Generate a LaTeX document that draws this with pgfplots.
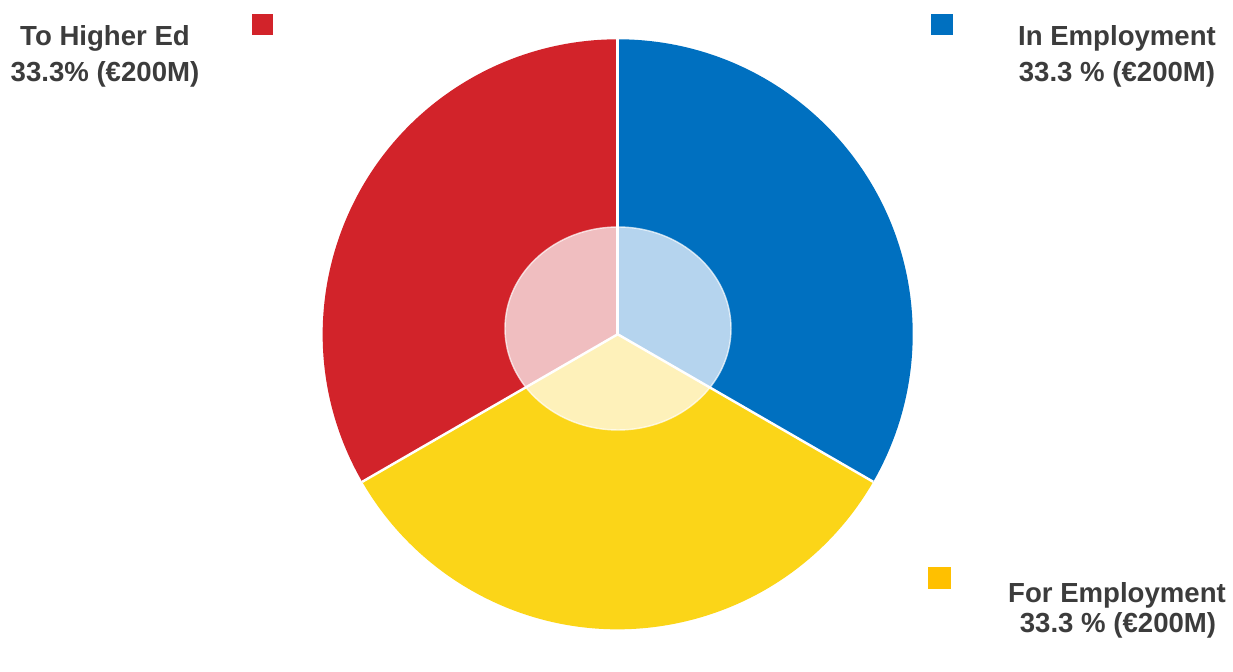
\documentclass[border=0pt]{standalone}
\usepackage{pgfplots}
\usepackage{pgfplotstable}
\pgfplotsset{compat=1.18}
\usepackage{fontspec}
\setmainfont{Liberation Sans}
\definecolor{cBlue}{HTML}{0070C0}
\definecolor{cYellow}{HTML}{FBD518}
\definecolor{cRed}{HTML}{D2232A}
\definecolor{lBlue}{HTML}{B5D4EE}
\definecolor{lYellow}{HTML}{FEF1BA}
\definecolor{lRed}{HTML}{F0BEC0}
\definecolor{legYellow}{HTML}{FFC000}
\definecolor{txt}{HTML}{3C3C3C}
\pgfplotstableread[col sep=comma]{
name,value
In Employment,200
For Employment,200
To Higher Ed,200
}\pietable
\begin{document}
\begin{tikzpicture}
\pgfplotstablegetelem{0}{value}\of\pietable \let\va\pgfplotsretval
\pgfplotstablegetelem{1}{value}\of\pietable \let\vb\pgfplotsretval
\pgfplotstablegetelem{2}{value}\of\pietable \let\vc\pgfplotsretval
\pgfmathsetmacro\tot{\va+\vb+\vc}
\pgfmathsetmacro\fa{\va/\tot}
\pgfmathsetmacro\fb{\vb/\tot}
\pgfmathsetmacro\fc{\vc/\tot}
\pgfmathsetmacro\Aa{90}
\pgfmathsetmacro\Ab{\Aa-360*\fa}
\pgfmathsetmacro\Ac{\Ab-360*\fb}
\pgfmathsetmacro\Ad{\Ac-360*\fc}
\def\R{2.95cm}
\begin{axis}[
  width=12.33cm, height=6.41cm, scale only axis,
  xmin=0, xmax=1233, ymin=0, ymax=641,
  hide axis, clip=false,
]
\path (rel axis cs:0,0) rectangle (rel axis cs:1,1);
% slices
\fill[cBlue] (axis cs:617.7,306.7) -- ++(\Aa:\R) arc[start angle=\Aa, end angle=\Ab, radius=\R] -- cycle;
\fill[cYellow] (axis cs:617.7,306.7) -- ++(\Ab:\R) arc[start angle=\Ab, end angle=\Ac, radius=\R] -- cycle;
\fill[cRed] (axis cs:617.7,306.7) -- ++(\Ac:\R) arc[start angle=\Ac, end angle=\Ad, radius=\R] -- cycle;
% inner light parts
\begin{scope}
\clip (axis cs:617.7,306.7) -- ++(\Aa:\R) arc[start angle=\Aa, end angle=\Ab, radius=\R] -- cycle;
\fill[lBlue] (axis cs:618,312.5) ellipse[x radius=1.13cm, y radius=1.015cm];
\end{scope}
\begin{scope}
\clip (axis cs:617.7,306.7) -- ++(\Ab:\R) arc[start angle=\Ab, end angle=\Ac, radius=\R] -- cycle;
\fill[lYellow] (axis cs:618,312.5) ellipse[x radius=1.13cm, y radius=1.015cm];
\end{scope}
\begin{scope}
\clip (axis cs:617.7,306.7) -- ++(\Ac:\R) arc[start angle=\Ac, end angle=\Ad, radius=\R] -- cycle;
\fill[lRed] (axis cs:618,312.5) ellipse[x radius=1.13cm, y radius=1.015cm];
\end{scope}
\draw[white, opacity=0.7, line width=0.4pt] (axis cs:618,312.5) ellipse[x radius=1.13cm, y radius=1.015cm];
% separators
\draw[white, line width=0.7pt] (axis cs:617.7,306.7) -- ++(\Aa:\R);
\draw[white, line width=0.7pt] (axis cs:617.7,306.7) -- ++(\Ab:\R);
\draw[white, line width=0.7pt] (axis cs:617.7,306.7) -- ++(\Ac:\R);
% legend squares
\fill[cRed] (axis cs:251.5,627) rectangle (axis cs:273,606);
\fill[cBlue] (axis cs:930.5,627) rectangle (axis cs:953,606);
\fill[legYellow] (axis cs:928,74) rectangle (axis cs:950.5,52);
% labels
\tikzset{lab/.style={anchor=base, text=txt, inner sep=0pt, font=\fontsize{7.85}{9}\selectfont\bfseries}}
\node[lab] at (axis cs:105,595) {To Higher Ed};
\node[lab] at (axis cs:105,559) {33.3\% (€200M)};
\node[lab] at (axis cs:1117,595) {In Employment};
\node[lab] at (axis cs:1117,559) {33.3 \% (€200M)};
\node[lab] at (axis cs:1117,38.5) {For Employment};
\node[lab] at (axis cs:1118,9) {33.3 \% (€200M)};
\end{axis}
\end{tikzpicture}
\end{document}
